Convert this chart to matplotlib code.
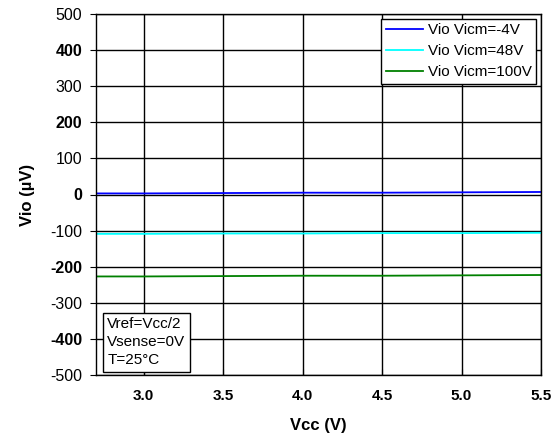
import matplotlib
matplotlib.use('Agg')
import matplotlib.pyplot as plt

plt.rcParams['font.family'] = ['Liberation Sans', 'DejaVu Sans']

vcc = [2.7, 3.0, 3.5, 4.0, 4.5, 5.0, 5.5]
vio_m4 = [3, 3, 4, 5, 5, 6, 7]
vio_48 = [-109, -109, -108, -108, -107, -107, -106]
vio_100 = [-227, -227, -226, -225, -225, -224, -223]

labels = ['Vio Vicm=-4V', 'Vio Vicm=48V', 'Vio Vicm=100V']
colors = ['#0000ff', '#00ffff', '#008000']

xticks = [3.0, 3.5, 4.0, 4.5, 5.0, 5.5]
yticks = list(range(-500, 501, 100))

fig = plt.figure(figsize=(5.58, 4.34), dpi=100)
ax = fig.add_axes([96 / 558, 59 / 434, 445 / 558, 361 / 434])

for y, lab, c in zip([vio_m4, vio_48, vio_100], labels, colors):
    ax.plot(vcc, y, color=c, lw=1.3, label=lab)

ax.set_xlim(2.7, 5.5)
ax.set_ylim(-500, 500)
ax.set_xticks(xticks)
ax.set_xticklabels(['%.1f' % v for v in xticks], fontsize=11, fontweight='bold')
ax.set_yticks(yticks)
ax.set_yticklabels([str(v) for v in yticks], fontsize=11.5)
for i, t in enumerate(ax.get_yticklabels()):
    # every other label is bold in the reference
    if yticks[i] % 200 == 0 and abs(yticks[i]) != 500:
        t.set_fontweight('bold')
ax.grid(True, color='black', lw=1)
ax.tick_params(axis='x', direction='in', length=4, pad=10)
ax.tick_params(axis='y', direction='out', length=4, pad=6)
for s in ax.spines.values():
    s.set_color('black')
    s.set_linewidth(1)

ax.set_xlabel('Vcc (V)', fontsize=12, fontweight='bold', labelpad=11)
ax.set_ylabel('Vio (µV)', fontsize=12, fontweight='bold', labelpad=11)

leg = ax.legend(loc='upper right', fontsize=11, frameon=True, fancybox=False,
                edgecolor='black', framealpha=1, handlelength=2.4,
                borderaxespad=0.3, labelspacing=0.45, handletextpad=0.35,
                borderpad=0.3)
leg.get_frame().set_linewidth(1)

ax.text(0.025, 0.022, 'Vref=Vcc/2\nVsense=0V\nT=25°C', transform=ax.transAxes,
        fontsize=11, va='bottom', ha='left', linespacing=1.35,
        bbox=dict(boxstyle='square,pad=0.3', fc='white', ec='black', lw=1))

fig.savefig('out.png', dpi=100)
